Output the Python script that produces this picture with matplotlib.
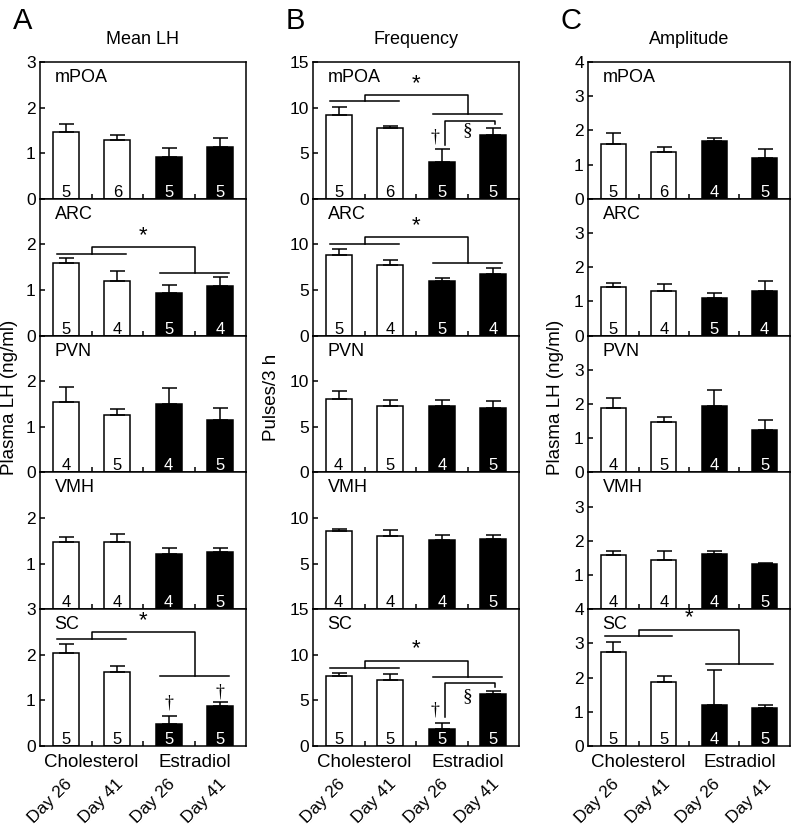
# -*- coding: utf-8 -*-
"""
LH mean, pulse frequency and amplitude after implants (5 brain regions)
"""

import numpy as np
import matplotlib.pyplot as plt

plt.rcParams['font.family'] = 'Liberation Sans'

#------------------------------------------------------------------------------
# data (bar height, top of SEM bar, n per group)
regions = ['mPOA', 'ARC', 'PVN', 'VMH', 'SC']
groups  = ['Cholesterol', 'Estradiol']
days    = ['Day 26', 'Day 41', 'Day 26', 'Day 41']

# A: Mean LH (ng/ml)
lh_mean = [[1.47, 1.29, 0.92, 1.14],
           [1.60, 1.19, 0.93, 1.08],
           [1.54, 1.26, 1.51, 1.14],
           [1.48, 1.47, 1.21, 1.26],
           [2.05, 1.63, 0.49, 0.88]]
lh_top  = [[1.65, 1.40, 1.12, 1.34],
           [1.70, 1.41, 1.11, 1.28],
           [1.87, 1.40, 1.85, 1.42],
           [1.58, 1.64, 1.34, 1.34],
           [2.24, 1.75, 0.65, 0.97]]
lh_n    = [[5, 6, 5, 5], [5, 4, 5, 4], [4, 5, 4, 5], [4, 4, 4, 5], [5, 5, 5, 5]]

# B: Frequency (pulses/3 h)
freq_mean = [[9.24, 7.71, 4.07, 7.05],
             [8.79, 7.77, 6.04, 6.78],
             [8.01, 7.24, 7.28, 7.06],
             [8.53, 7.99, 7.55, 7.66],
             [7.66, 7.22, 1.83, 5.68]]
freq_top  = [[10.07, 7.96, 5.45, 7.71],
             [9.45, 8.24, 6.34, 7.40],
             [8.90, 7.98, 7.98, 7.79],
             [8.79, 8.72, 8.17, 8.10],
             [8.02, 7.84, 2.56, 6.04]]
freq_n    = [[5, 6, 5, 5], [5, 4, 5, 4], [4, 5, 4, 5], [4, 4, 4, 5], [5, 5, 5, 5]]

# C: Amplitude (ng/ml)
amp_mean = [[1.59, 1.38, 1.69, 1.20],
            [1.43, 1.31, 1.09, 1.29],
            [1.88, 1.48, 1.93, 1.24],
            [1.59, 1.44, 1.62, 1.32],
            [2.76, 1.88, 1.19, 1.12]]
amp_top  = [[1.91, 1.52, 1.77, 1.45],
            [1.54, 1.51, 1.25, 1.59],
            [2.19, 1.61, 2.40, 1.53],
            [1.71, 1.69, 1.71, 1.35],
            [3.05, 2.06, 2.22, 1.21]]
amp_n    = [[5, 6, 4, 5], [5, 4, 5, 4], [4, 5, 4, 5], [4, 4, 4, 5], [5, 5, 4, 5]]

# * brackets: row -> (cholesterol line, top, estradiol line)
lh_star   = {1: (1.79, 1.94, 1.38), 4: (2.34, 2.49, 1.54)}
freq_star = {0: (10.69, 11.35, 9.27), 1: (10.07, 10.80, 7.95), 4: (8.57, 9.34, 7.52)}
amp_star  = {4: (3.22, 3.39, 2.39)}

# § brackets (B): row -> (horizontal, left end, right end)
freq_sect = {0: (8.56, 5.90, 8.16), 4: (6.95, 3.15, 6.44)}
freq_sect_sym = {0: 7.5, 4: 5.4}
freq_dag  = {0: 6.8, 4: 3.95}
# daggers (A): row -> list of (bar, y)
lh_dag = {4: [(2, 0.94), (3, 1.19)]}

#------------------------------------------------------------------------------
# plotting settings
W, H = 796., 825.
col_left = [40, 313, 588]
col_w    = [206, 206, 202]
top0  = 62
row_h = 136.8
lw = 1.1
fs_tick = 12.5

fig = plt.figure(figsize=(W/100, H/100), dpi=100)

def px_axes(l, t, w, h):
    return fig.add_axes([l/W, 1-(t+h)/H, w/W, h/H])

cols = [dict(mean=lh_mean, top=lh_top, n=lh_n, ymax=3, step=1, star=lh_star,
             title='Mean LH', letter='A', ylab='Plasma LH (ng/ml)', ylx=10),
        dict(mean=freq_mean, top=freq_top, n=freq_n, ymax=15, step=5, star=freq_star,
             title='Frequency', letter='B', ylab='Pulses/3 h', ylx=272),
        dict(mean=amp_mean, top=amp_top, n=amp_n, ymax=4, step=1, star=amp_star,
             title='Amplitude', letter='C', ylab='Plasma LH (ng/ml)', ylx=556)]

x = np.arange(4)
face = ['white', 'white', 'black', 'black']

for c, spec in enumerate(cols):
    for r in range(5):
        ax = px_axes(col_left[c], top0 + r*row_h, col_w[c], row_h)
        m = np.array(spec['mean'][r])
        t = np.array(spec['top'][r])
        ax.bar(x, m, 0.5, color=face, edgecolor='black', linewidth=lw)
        ax.errorbar(x, m, yerr=[np.zeros(4), t - m], fmt='none', ecolor='black',
                    elinewidth=lw, capsize=5.4, capthick=lw)
        ax.set_xlim(-0.5, 3.5)
        ax.set_ylim(0, spec['ymax'])
        ax.set_xticks([0.5, 1.5, 2.5])
        ax.set_xticklabels([])
        yt = np.arange(0, spec['ymax'] + 0.1, spec['step'])
        ax.set_yticks(yt)
        labs = ['%d' % v for v in yt]
        if r not in (0, 4):
            labs[-1] = ''
        if r == 3:
            labs[0] = ''
        ax.set_yticklabels(labs)
        ax.tick_params(direction='in', length=3.6, width=lw, labelsize=fs_tick, pad=3)
        for s in ax.spines.values():
            s.set_linewidth(lw)

        # region name
        ax.annotate(regions[r], xy=(0, 1), xycoords='axes fraction', xytext=(10.5, -5),
                    textcoords='offset points', ha='left', va='top', fontsize=13)
        # n per bar
        for i in range(4):
            ax.annotate(str(spec['n'][r][i]), xy=(x[i], 0), xytext=(0, 1.5),
                        textcoords='offset points', ha='center', va='baseline',
                        color='white' if face[i] == 'black' else 'black', fontsize=12)

        # * bracket
        if r in spec['star']:
            yl, ytop, yr = spec['star'][r]
            ax.plot([-0.17, 1.17], [yl, yl], color='k', lw=lw)
            ax.plot([1.83, 3.17], [yr, yr], color='k', lw=lw)
            ax.plot([0.5, 0.5, 2.5, 2.5], [yl, ytop, ytop, yr], color='k', lw=lw)
            ax.annotate('*', xy=(1.5, ytop), xytext=(0, 1), textcoords='offset points',
                        ha='center', va='bottom', fontsize=16)

        # § bracket and daggers
        if c == 1 and r in freq_sect:
            yh, y0, y1 = freq_sect[r]
            ax.plot([2.06, 2.06, 3.03, 3.03], [y0, yh, yh, y1], color='k', lw=lw)
            ax.text(1.86, freq_dag[r], u'\u2020', ha='center', va='center',
                    fontsize=13, family='Liberation Serif')
            ax.text(2.5, freq_sect_sym[r], u'\u00a7', ha='center', va='center',
                    fontsize=14, family='Liberation Serif')
        if c == 0 and r in lh_dag:
            for b, yd in lh_dag[r]:
                ax.text(x[b], yd, u'\u2020', ha='center', va='center',
                        fontsize=13, family='Liberation Serif')

        # bottom labels
        if r == 4:
            for g in range(2):
                ax.annotate(groups[g], xy=(0.5 + 2*g, 0), xycoords=('data', 'axes fraction'),
                            xytext=(0, -6), textcoords='offset points',
                            ha='center', va='top', fontsize=13.5)
            for i in range(4):
                ax.annotate(days[i], xy=(x[i], 0), xycoords=('data', 'axes fraction'),
                            xytext=(6.5, -22), textcoords='offset points',
                            ha='right', va='top', rotation=45, fontsize=12.5)

    cx = (col_left[c] + col_w[c]/2.) / W
    fig.text(cx, 1 - 39/H, spec['title'], ha='center', va='center', fontsize=13)
    fig.text((col_left[c] - 27)/W, 1 - 21/H, spec['letter'], ha='left', va='center', fontsize=21)
    fig.text(spec['ylx']/W, 1 - 397/H, spec['ylab'], ha='center', va='center',
             rotation=90, fontsize=13.5)

plt.savefig('out.png', dpi=100)
